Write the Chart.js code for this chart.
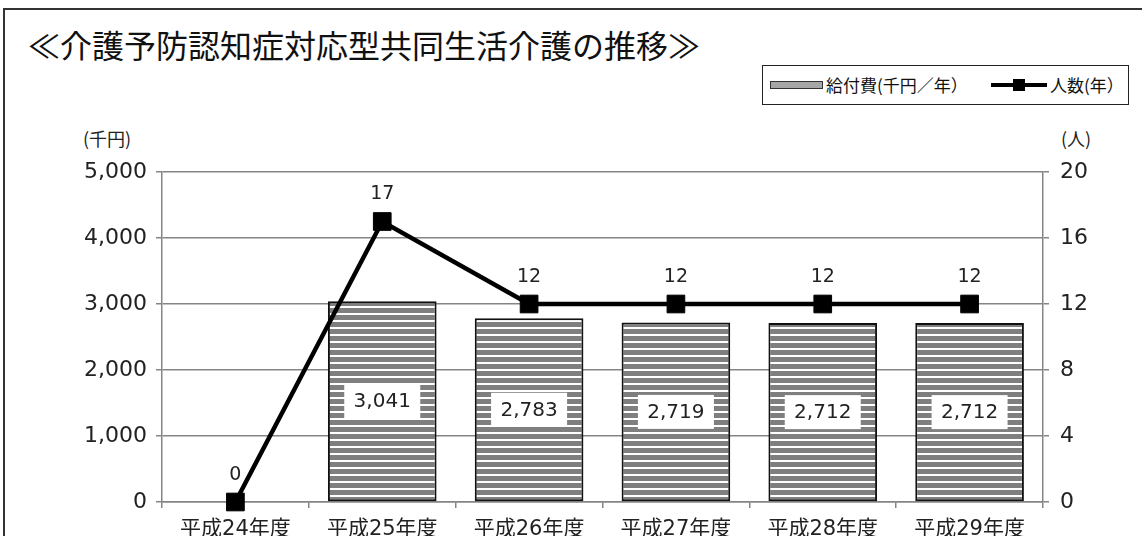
<!DOCTYPE html>
<html lang="ja">
<head>
<meta charset="utf-8">
<script src="https://cdn.jsdelivr.net/npm/chart.js@4.4.1/dist/chart.umd.min.js"></script>
<style>
  html, body { margin: 0; padding: 0; background: #fff; overflow: hidden; width: 1142px; height: 536px; }
  #wrap { position: relative; width: 1142px; height: 536px; overflow: hidden; font-family: 'Noto Sans CJK JP', sans-serif; color: #111; }
  #frame { position: absolute; left: 3px; top: 8px; width: 1300px; height: 700px; border-left: 2px solid #333; border-top: 2px solid #333; }
  #title { position: absolute; left: 28px; top: 24px; font-size: 32px; line-height: 40px; white-space: nowrap; }
  #legendBox { position: absolute; left: 762px; top: 65px; width: 367px; height: 40px; border: 1.5px solid #222; box-sizing: border-box; }
  .lg { position: absolute; }
  .lgText { position: absolute; font-size: 17px; line-height: 22px; top: 74px; white-space: nowrap; }
  .unit { position: absolute; font-size: 18px; line-height: 22px; top: 127px; white-space: nowrap; color: #222; }
  canvas { position: absolute; left: 0; top: 0; }
</style>
</head>
<body>
<div id="wrap">
  <div id="frame"></div>
  <div id="title">≪介護予防認知症対応型共同生活介護の推移≫</div>
  <div id="legendBox"></div>
  <div class="lg" style="left:770px; top:81px; width:53px; height:8px; background:#a6a6a6; border:1.5px solid #333; box-sizing:border-box;"></div>
  <div class="lgText" style="left:826px;">給付費(千円／年）</div>
  <div class="lg" style="left:991px; top:83px; width:56px; height:4px; background:#000;"></div>
  <div class="lg" style="left:1013px; top:79px; width:12px; height:12px; background:#000;"></div>
  <div class="lgText" style="left:1050px;">人数(年）</div>
  <div class="unit" style="left:83px;">(千円)</div>
  <div class="unit" style="left:1061px;">(人)</div>
  <canvas id="chart" width="1142" height="560"></canvas>
</div>
<script>
// 年度
const categories = ['平成24年度', '平成25年度', '平成26年度', '平成27年度', '平成28年度', '平成29年度'];
// 給付費（千円／年）
const benefitCost = [0, 3041, 2783, 2719, 2712, 2712];
// 人数（年）
const persons = [0, 17, 12, 12, 12, 12];
// 軸の範囲
const costAxis = { min: 0, max: 5000, step: 1000 };
const personAxis = { min: 0, max: 20, step: 4 };

const numFont = "'DejaVu Sans', 'Noto Sans CJK JP', sans-serif";
const gridGray = '#858585';
const textColor = '#222';

// 横縞のパターン
function stripePattern() {
  const c = document.createElement('canvas');
  c.width = 8; c.height = 7;
  const g = c.getContext('2d');
  g.fillStyle = '#ffffff';
  g.fillRect(0, 0, 8, 7);
  g.fillStyle = '#7f7f7f';
  g.fillRect(0, 0, 8, 5);
  return g.createPattern(c, 'repeat');
}

const valueLabels = {
  id: 'valueLabels',
  afterDatasetsDraw(chart) {
    const ctx = chart.ctx;
    ctx.save();
    ctx.textAlign = 'center';
    ctx.textBaseline = 'middle';
    chart.getDatasetMeta(0).data.forEach((bar, i) => {
      const v = benefitCost[i];
      if (!v) return;
      const cy = (bar.y + bar.base) / 2;
      ctx.fillStyle = '#fff';
      ctx.fillRect(bar.x - 38, cy - 17, 76, 34);
      ctx.fillStyle = textColor;
      ctx.font = '20px ' + numFont;
      ctx.fillText(v.toLocaleString('en-US'), bar.x, cy + 1);
    });
    ctx.font = '19px ' + numFont;
    ctx.fillStyle = textColor;
    chart.getDatasetMeta(1).data.forEach((pt, i) => {
      ctx.fillText(String(persons[i]), pt.x, pt.y - 27);
    });
    ctx.restore();
  }
};

new Chart(document.getElementById('chart'), {
  data: {
    labels: categories,
    datasets: [
      {
        type: 'bar',
        label: '給付費(千円／年）',
        data: benefitCost,
        yAxisID: 'y',
        backgroundColor: stripePattern(),
        borderColor: '#111',
        borderWidth: c => (c.raw > 0 ? 2 : 0),
        borderSkipped: false,
        barPercentage: 0.74,
        categoryPercentage: 1,
        order: 2
      },
      {
        type: 'line',
        label: '人数(年）',
        data: persons,
        yAxisID: 'y2',
        borderColor: '#000',
        borderWidth: 4.5,
        tension: 0,
        pointStyle: 'rect',
        pointRadius: 12.5,
        pointBackgroundColor: '#000',
        pointBorderColor: '#000',
        pointBorderWidth: 1,
        clip: false,
        order: 1
      }
    ]
  },
  options: {
    responsive: false,
    animation: false,
    devicePixelRatio: 1,
    layout: { padding: { top: 172, left: 0, right: 0, bottom: 0 } },
    plugins: {
      legend: { display: false },
      title: { display: false },
      tooltip: { enabled: false }
    },
    scales: {
      x: {
        grid: { offset: true, drawOnChartArea: false, tickLength: 6, color: gridGray, lineWidth: 1.5 },
        border: { color: gridGray, width: 1.5 },
        ticks: { color: textColor, font: { family: numFont, size: 21 }, padding: 9, maxRotation: 0 },
        afterFit: s => { s.height = 58; }
      },
      y: {
        position: 'left',
        min: costAxis.min,
        max: costAxis.max,
        ticks: {
          stepSize: costAxis.step,
          color: textColor,
          font: { family: numFont, size: 22 },
          padding: 9,
          callback: v => v.toLocaleString('en-US')
        },
        grid: { color: gridGray, lineWidth: 1.5, tickLength: 6 },
        border: { color: gridGray, width: 1.5 },
        afterFit: s => { s.width = 162; }
      },
      y2: {
        position: 'right',
        min: personAxis.min,
        max: personAxis.max,
        ticks: {
          stepSize: personAxis.step,
          color: textColor,
          font: { family: numFont, size: 22 },
          padding: 11
        },
        grid: { drawOnChartArea: false, color: gridGray, lineWidth: 1.5, tickLength: 6 },
        border: { color: gridGray, width: 1.5 },
        afterFit: s => { s.width = 99; }
      }
    }
  },
  plugins: [valueLabels]
});
</script>
</body>
</html>
